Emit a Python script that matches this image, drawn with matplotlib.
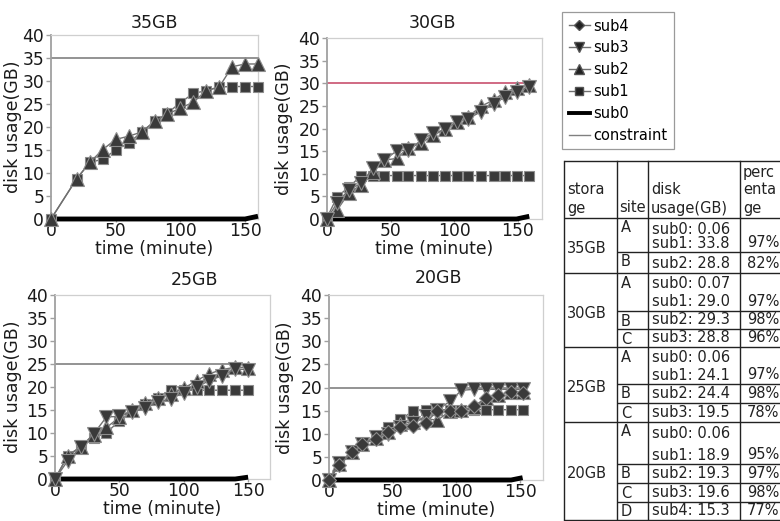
import matplotlib
matplotlib.use('Agg')
import matplotlib.pyplot as plt
from matplotlib.lines import Line2D

plt.rcParams['font.family'] = ['DejaVu Sans']

# ---------------- data ----------------
# 35GB
t35 = [0, 20, 30, 40, 50, 60, 70, 80, 90, 100, 110, 120, 130, 140, 150, 160]
s0_35 = [0, 0, 0, 0, 0, 0, 0, 0, 0, 0, 0, 0, 0, 0, 0, 0.6]
s1_35 = [0, 8.8, 12.3, 13.0, 15.0, 16.5, 18.9, 21.2, 23.0, 25.3, 27.3, 27.9, 28.7, 28.8, 28.8, 28.8]
s2_35 = [0, 8.8, 12.3, 15.1, 17.3, 18.0, 18.9, 21.2, 22.8, 24.1, 25.4, 27.9, 28.7, 33.1, 33.7, 33.7]

# 30GB
t30 = [0, 8, 17, 27, 36, 45, 55, 64, 74, 83, 93, 102, 111, 121, 131, 140, 149, 159]
s0_30 = [0, 0, 0, 0, 0, 0, 0, 0, 0, 0, 0, 0, 0, 0, 0, 0, 0, 0.6]
s1_30 = [0.3, 4.9, 7.0, 9.6, 9.6, 9.6, 9.6, 9.6, 9.6, 9.6, 9.6, 9.6, 9.6, 9.6, 9.6, 9.6, 9.6, 9.6]
s2_30 = [0, 2.0, 5.7, 7.5, 10.4, 13.0, 13.4, 15.8, 16.7, 18.5, 19.8, 21.5, 22.6, 24.9, 26.3, 28.1, 29.0, 29.6]
s3_30 = [0, 3.6, 6.4, 7.9, 11.2, 13.0, 15.1, 15.2, 17.4, 18.9, 19.8, 21.5, 22.2, 23.7, 25.5, 27.0, 28.1, 29.2]

# 25GB
t25 = [0, 10, 20, 30, 40, 50, 60, 70, 80, 90, 100, 110, 120, 130, 140, 150]
s0_25 = [0, 0, 0, 0, 0, 0, 0, 0, 0, 0, 0, 0, 0, 0, 0, 0.4]
s1_25 = [0, 5.1, 7.0, 8.9, 10.1, 12.6, 14.8, 16.3, 17.7, 19.3, 19.3, 19.3, 19.3, 19.3, 19.3, 19.3]
s2_25 = [0, 5.1, 7.0, 9.6, 11.2, 13.4, 15.1, 16.5, 17.7, 18.4, 19.7, 21.4, 22.9, 23.8, 24.3, 24.2]
s3_25 = [0, 4.0, 6.9, 9.8, 13.5, 13.6, 14.6, 15.4, 16.8, 17.4, 18.8, 20.0, 21.4, 22.5, 23.9, 23.8]

# 20GB
t20 = [0, 8, 18, 26, 37, 46, 56, 66, 76, 85, 95, 104, 114, 123, 133, 143, 152]
s0_20 = [0, 0, 0, 0, 0, 0, 0, 0, 0, 0, 0, 0, 0, 0, 0, 0, 0.5]
s1_20 = [0, 3.9, 6.0, 7.7, 9.6, 11.5, 13.1, 14.9, 15.2, 15.2, 15.2, 15.2, 15.2, 15.2, 15.2, 15.2, 15.2]
s2_20 = [0, 3.4, 6.0, 7.7, 9.1, 10.3, 12.2, 12.6, 13.3, 12.9, 14.9, 15.2, 15.7, 17.7, 18.4, 19.1, 19.1]
s3_20 = [0, 3.7, 6.0, 7.7, 9.2, 9.9, 11.5, 12.4, 13.8, 15.2, 17.0, 19.4, 19.6, 19.6, 19.6, 19.6, 19.6]
s4_20 = [0, 3.2, 6.0, 7.7, 8.9, 10.3, 11.5, 11.7, 12.4, 14.9, 15.0, 15.0, 16.0, 17.7, 18.3, 19.0, 18.8]

constraints = [35, 30, 25, 20]
titles = ['35GB', '30GB', '25GB', '20GB']

# table contents
tbl_storage = ['35GB', '30GB', '25GB', '20GB']
tbl_sites = [['A', 'B'], ['A', 'B', 'C'], ['A', 'B', 'C'], ['A', 'B', 'C', 'D']]
tbl_usage = [
    [['sub0: 0.06', 'sub1: 33.8'], ['sub2: 28.8']],
    [['sub0: 0.07', 'sub1: 29.0'], ['sub2: 29.3'], ['sub3: 28.8']],
    [['sub0: 0.06', 'sub1: 24.1'], ['sub2: 24.4'], ['sub3: 19.5']],
    [['sub0: 0.06', 'sub1: 18.9'], ['sub2: 19.3'], ['sub3: 19.6'], ['sub4: 15.3']],
]
tbl_pct = [['97%', '82%'], ['97%', '98%', '96%'], ['97%', '98%', '78%'], ['95%', '97%', '98%', '77%']]

# ---------------- figure ----------------
W, H = 780, 521
fig = plt.figure(figsize=(W / 100, H / 100), dpi=100)

def px_axes(l, t, r, b):
    return fig.add_axes([l / W, 1 - b / H, (r - l) / W, (b - t) / H])

MFC = '#3a3a3a'
MEC = '#8c8c8c'
LC = '#707070'
TXT = '#1a1a1a'
styles = {
    'sub4': dict(marker='D', ms=7.5),
    'sub3': dict(marker='v', ms=9.5),
    'sub2': dict(marker='^', ms=9.5),
    'sub1': dict(marker='s', ms=7.5),
}

def draw_panel(box, xmax, t, s0, series, cons, ccolor, title, title_x, title_pad, ylab_x):
    ax = px_axes(*box)
    ax.plot([t[0], t[-1]], [cons, cons], color=ccolor, lw=1.2, zorder=2)
    ax.plot(t, s0, color='black', lw=3.5, solid_capstyle='butt', zorder=3, clip_on=False)
    for name, ys in series:
        st = styles[name]
        ax.plot(t, ys, color=LC, lw=1.0, marker=st['marker'], ms=st['ms'],
                mfc=MFC, mec=MEC, mew=0.8, zorder=4, clip_on=False)
    ax.set_xlim(0, xmax)
    ax.set_ylim(0, 40)
    ax.set_yticks(range(0, 41, 5))
    ax.set_xticks([0, 50, 100, 150])
    for sp in ax.spines.values():
        sp.set_color('#cfcfcf')
        sp.set_linewidth(0.9)
    ax.spines['left'].set_color('#a0a0a0')
    ax.spines['left'].set_linewidth(1.3)
    ax.tick_params(axis='y', labelsize=12.3, colors='#a0a0a0', labelcolor=TXT,
                   length=3.5, width=1.0, pad=1.5, direction='out')
    ax.tick_params(axis='x', labelsize=12.3, colors='#a0a0a0', labelcolor=TXT,
                   length=2.0, width=1.0, pad=0.3, direction='out')
    ax.set_xlabel('time (minute)', fontsize=12.3, labelpad=0, color=TXT)
    ax.set_ylabel('disk usage(GB)', fontsize=12.5, color=TXT, va='center')
    ax.yaxis.set_label_coords(ylab_x, 0.5)
    ax.set_title(title, fontsize=12.5, pad=title_pad, x=title_x, color=TXT)
    return ax

draw_panel((51, 35, 258, 219), 160, t35, s0_35,
           [('sub1', s1_35), ('sub2', s2_35)], constraints[0], '#808080',
           titles[0], 0.5, 4.8, -0.183)
draw_panel((327, 38, 542, 219), 169, t30, s0_30,
           [('sub1', s1_30), ('sub2', s2_30), ('sub3', s3_30)], constraints[1], '#c8506e',
           titles[1], 0.49, 7.0, -0.199)
draw_panel((55, 295, 270, 479), 167, t25, s0_25,
           [('sub1', s1_25), ('sub2', s2_25), ('sub3', s3_25)], constraints[2], '#808080',
           titles[2], 0.65, 7.2, -0.194)
draw_panel((329, 295, 543, 480), 168, t20, s0_20,
           [('sub1', s1_20), ('sub2', s2_20), ('sub3', s3_20), ('sub4', s4_20)], constraints[3], '#808080',
           titles[3], 0.51, 8.4, -0.205)

# ---------------- legend ----------------
handles = [
    Line2D([], [], color=LC, lw=1.0, marker='D', ms=5.5, mfc='#222222', mec='#555555'),
    Line2D([], [], color=LC, lw=1.0, marker='v', ms=7, mfc='#222222', mec='#555555'),
    Line2D([], [], color=LC, lw=1.0, marker='^', ms=7, mfc='#222222', mec='#555555'),
    Line2D([], [], color=LC, lw=1.0, marker='s', ms=6, mfc='#222222', mec='#555555'),
    Line2D([], [], color='black', lw=2.8),
    Line2D([], [], color='#808080', lw=1.0),
]
labels = ['sub4', 'sub3', 'sub2', 'sub1', 'sub0', 'constraint']
leg = fig.legend(handles, labels, loc='upper left', bbox_to_anchor=(562 / W, 1 - 12 / H),
                 fontsize=10.5, handlelength=1.45, handletextpad=0.25, labelspacing=0.47,
                 borderpad=0.45, borderaxespad=0, fancybox=False, framealpha=1,
                 edgecolor='#9a9a9a')
leg.get_frame().set_linewidth(0.9)

# ---------------- table ----------------
tax = fig.add_axes([0, 0, 1, 1], zorder=-1)
tax.set_xlim(0, W)
tax.set_ylim(H, 0)
tax.axis('off')

TFS = 10.5
TC = '#222222'
xL, xC1, xC2, xC3, xR = 564, 617, 648, 740, 781
top, hdr_bottom = 161, 218
block_rows = [[252, 273], [311, 329, 347], [384, 403, 422], [464, 483, 502, 520]]

def hline(y, x0, x1, lw=1.0):
    tax.plot([x0, x1], [y, y], color='#222222', lw=lw, solid_capstyle='butt')

hline(top, xL, xR)
hline(hdr_bottom, xL, xR)
for x in [xL, xC1, xC2, xC3]:
    tax.plot([x, x], [top, 520], color='#222222', lw=1.0)

# header
tax.text(xL + 3, 190, 'stora', fontsize=TFS, color=TC, va='center')
tax.text(xL + 3, 208, 'ge', fontsize=TFS, color=TC, va='center')
tax.text(xC1 + 2, 208, 'site', fontsize=TFS, color=TC, va='center')
tax.text(xC2 + 3, 190, 'disk', fontsize=TFS, color=TC, va='center')
tax.text(xC2 + 3, 208, 'usage(GB)', fontsize=TFS, color=TC, va='center')
tax.text(xC3 + 3, 173, 'perc', fontsize=TFS, color=TC, va='center')
tax.text(xC3 + 3, 190, 'enta', fontsize=TFS, color=TC, va='center')
tax.text(xC3 + 3, 208, 'ge', fontsize=TFS, color=TC, va='center')

prev = hdr_bottom
for bi, rows in enumerate(block_rows):
    btop = prev
    rtop = btop
    for ri, rb in enumerate(rows):
        last = ri == len(rows) - 1
        hline(rb, xL if last else xC1, xR)
        lines = tbl_usage[bi][ri]
        tax.text(xC1 + 4, rtop + 10, tbl_sites[bi][ri], fontsize=TFS, color=TC, va='center')
        if len(lines) == 2:
            tax.text(xC2 + 4, rtop + 11, lines[0], fontsize=TFS, color=TC, va='center')
            tax.text(xC2 + 4, rb - 9, lines[1], fontsize=TFS, color=TC, va='center')
        else:
            tax.text(xC2 + 4, rb - 9.5, lines[0], fontsize=TFS, color=TC, va='center')
        tax.text(779, rb - 9.5, tbl_pct[bi][ri], fontsize=TFS, color=TC, va='center', ha='right')
        rtop = rb
    tax.text(xL + 3, (btop + rows[-1]) / 2 + 3, tbl_storage[bi], fontsize=TFS, color=TC, va='center')
    prev = rows[-1]

fig.savefig('out.png', dpi=100)
